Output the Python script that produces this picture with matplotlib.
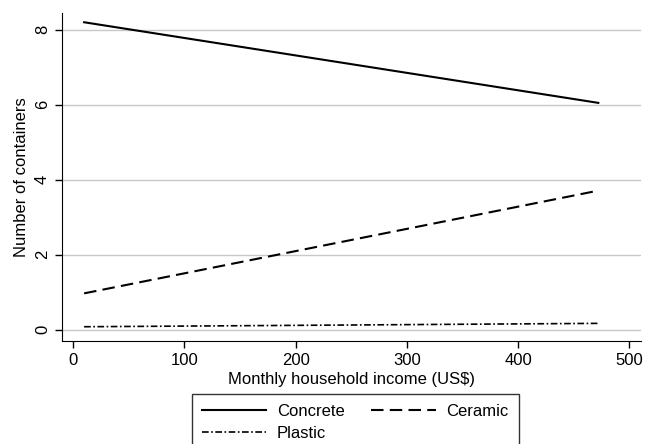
import numpy as np
import matplotlib.pyplot as plt

plt.rcParams['font.family'] = ['Liberation Sans', 'DejaVu Sans']

# predicted number of containers by monthly income
income = [10, 472]
concrete = [8.2, 6.05]
ceramic = [0.97, 3.71]
plastic = [0.08, 0.17]

x_ticks = [0, 100, 200, 300, 400, 500]
y_ticks = [0, 2, 4, 6, 8]

fig = plt.figure(figsize=(6.51, 4.44), dpi=100)
ax = fig.add_axes([0.095, 0.232, 0.889, 0.739])

l1, = ax.plot(income, concrete, color='black', lw=1.5, ls='-', label='Concrete')
l2, = ax.plot(income, ceramic, color='black', lw=1.5, ls=(0, (6, 3)), label='Ceramic')
l3, = ax.plot(income, plastic, color='black', lw=1.2, ls=(0, (4, 1.5, 1, 1.5)), label='Plastic')

ax.set_xlim(-10, 510)
ax.set_ylim(-0.3, 8.45)
ax.set_xticks(x_ticks)
ax.set_yticks(y_ticks)
ax.yaxis.grid(True, color='#c8c8c8', lw=1)
ax.set_axisbelow(True)
for s in ['top', 'right']:
    ax.spines[s].set_visible(False)
ax.tick_params(labelsize=12, length=5, width=1)
plt.setp(ax.get_yticklabels(), rotation=90, va='center')

ax.set_xlabel('Monthly household income (US$)', fontsize=12, labelpad=3)
ax.set_ylabel('Number of containers', fontsize=12, labelpad=4)

# row-major order like the original: Concrete, Ceramic / Plastic
leg = fig.legend([l1, l3, l2], ['Concrete', 'Plastic', 'Ceramic'],
                 loc='upper left', bbox_to_anchor=(0.295, 0.1126), ncol=2,
                 fontsize=12, frameon=True, fancybox=False, edgecolor='black',
                 handlelength=3.85, columnspacing=1.6, borderpad=0.6,
                 labelspacing=0.4, handletextpad=0.65, borderaxespad=0)
leg.get_frame().set_linewidth(1)

fig.savefig('out.png', dpi=100)
